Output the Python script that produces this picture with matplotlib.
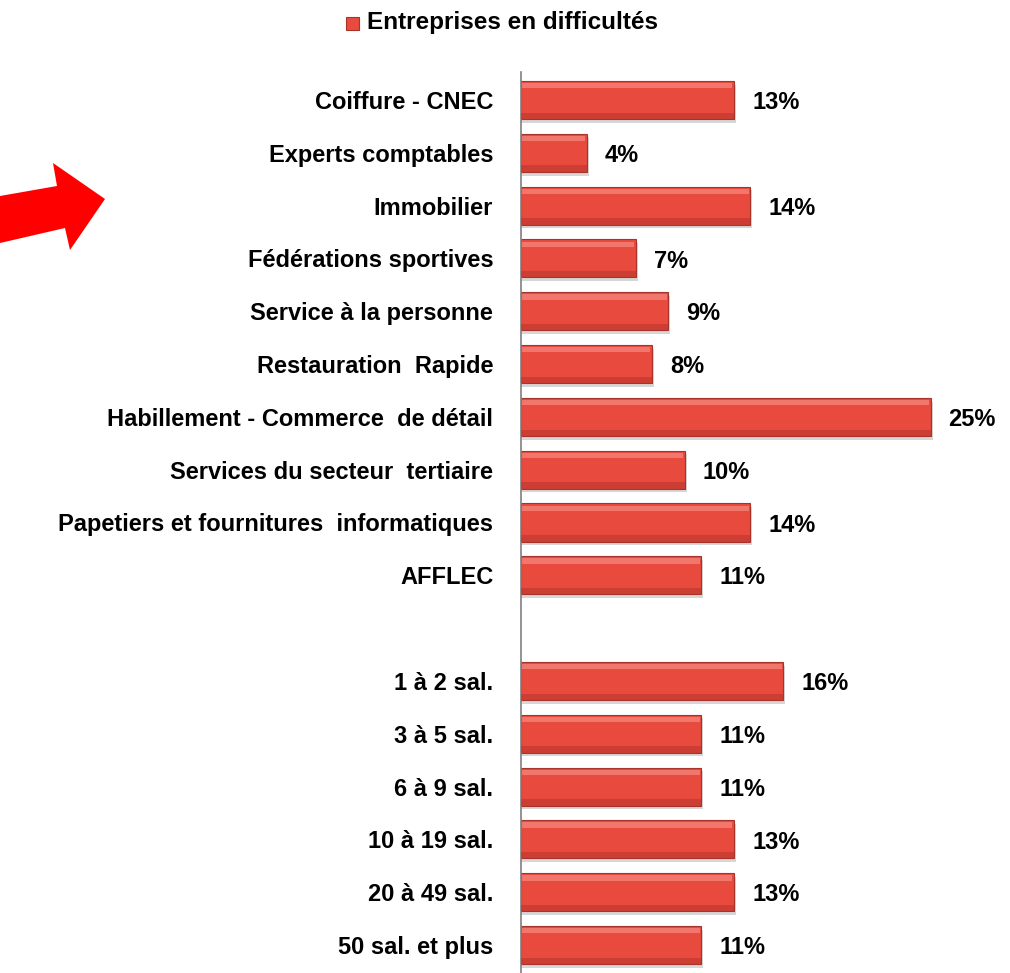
import matplotlib.pyplot as plt
from matplotlib.patches import Polygon

plt.rcParams['font.family'] = ['Liberation Sans', 'DejaVu Sans']

# secteurs puis taille d'entreprise (une ligne vide entre les deux groupes)
secteurs = ['Coiffure - CNEC', 'Experts comptables', 'Immobilier',
            'Fédérations sportives', 'Service à la personne', 'Restauration  Rapide',
            'Habillement - Commerce  de détail', 'Services du secteur  tertiaire',
            'Papetiers et fournitures  informatiques', 'AFFLEC']
secteurs_val = [13, 4, 14, 7, 9, 8, 25, 10, 14, 11]

tailles = ['1 à 2 sal.', '3 à 5 sal.', '6 à 9 sal.', '10 à 19 sal.',
           '20 à 49 sal.', '50 sal. et plus']
tailles_val = [16, 11, 11, 13, 13, 11]

serie = 'Entreprises en difficultés'

labels = secteurs + [''] + tailles
values = secteurs_val + [None] + tailles_val

fig = plt.figure(figsize=(10.10, 9.73), dpi=100)
ax = fig.add_axes([521 / 1010, 0, 1 - 521 / 1010 - 0.004, 1 - 72 / 973])

ys = [i for i, v in enumerate(values) if v is not None]
vs = [v for v in values if v is not None]
h = 0.72

# ombre, barre, reflet
ax.barh([y + 0.07 for y in ys], [v + 0.12 for v in vs], height=h,
        color='#bbbbbb', alpha=0.6, zorder=1)
ax.barh(ys, vs, height=h, color='#e84a3e', edgecolor='#a8332b', linewidth=0.8, zorder=2)
ax.barh([y - h / 2 + 0.09 for y in ys], [v - 0.15 for v in vs], height=0.1,
        left=0.05, color='#f58a80', alpha=0.7, zorder=3)
ax.barh([y + h / 2 - 0.06 for y in ys], vs, height=0.12,
        color='#b5352c', alpha=0.55, zorder=3)

for y, v in zip(ys, vs):
    ax.text(v + 1.1, y + 0.05, f'{v}%', va='center', ha='left',
            fontsize=17, fontweight='bold')

ax.set_yticks(range(len(labels)))
ax.set_yticklabels(labels, fontsize=17, fontweight='bold')
ax.tick_params(axis='y', length=0, pad=20)
ax.set_xticks([])
ax.set_xlim(0, 29.6)
ax.set_ylim(len(labels) - 0.47, -0.53)
for s in ['top', 'right', 'bottom']:
    ax.spines[s].set_visible(False)
ax.spines['left'].set_color('#808080')
ax.spines['left'].set_linewidth(1.2)

# légende
fig.patches.append(plt.Rectangle((346 / 1010, 1 - 30 / 973), 13 / 1010, 13 / 973,
                                 transform=fig.transFigure, facecolor='#e84a3e',
                                 edgecolor='#a8332b', linewidth=0.8))
fig.text(367 / 1010, 1 - 23 / 973, serie, fontsize=17.5, fontweight='bold',
         va='center', ha='left')

# flèche rouge
pts = [(0, 196), (57, 186), (53, 163), (105, 199), (70, 250), (65, 228), (0, 243)]
fig.patches.append(Polygon([(x / 1010, 1 - y / 973) for x, y in pts], closed=True,
                           transform=fig.transFigure, facecolor='#ff0000',
                           edgecolor='none'))

fig.savefig('out.png', dpi=100, facecolor='white')
